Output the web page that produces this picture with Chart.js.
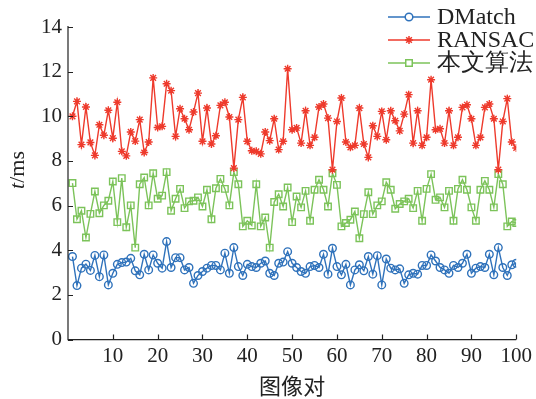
<!DOCTYPE html>
<html><head><meta charset="utf-8">
<script src="https://cdn.jsdelivr.net/npm/chart.js@4/dist/chart.umd.min.js"></script>
<style>html,body{margin:0;padding:0;background:#fff;}canvas{display:block;}</style>
</head><body>
<canvas id="c" width="536" height="399"></canvas>
<script>
const pairIndex = Array.from({length:100},(_,i)=>i+1);
const dmatch = [3.72,2.42,3.20,3.38,3.10,3.77,2.82,3.79,2.45,2.97,3.37,3.45,3.47,3.64,3.08,2.90,3.82,3.12,3.79,3.42,
3.20,4.39,3.23,3.67,3.67,3.12,3.23,2.52,2.87,3.05,3.20,3.32,3.32,3.12,3.87,2.97,4.12,3.27,2.87,3.37,
3.27,3.23,3.42,3.52,2.97,2.87,3.42,3.47,3.94,3.42,3.23,3.05,2.97,3.27,3.32,3.23,3.82,2.93,4.09,3.27,
2.90,3.37,2.45,3.12,3.35,3.08,3.72,2.93,3.76,2.45,3.61,3.20,3.12,3.17,2.52,2.90,2.97,2.93,3.32,3.32,
3.79,3.52,3.23,3.12,2.97,3.32,3.23,3.42,3.82,2.97,3.20,3.27,3.23,3.82,2.90,4.12,3.23,2.87,3.35,3.42];
const ransac = [10.0,10.67,8.73,10.42,8.83,8.25,9.62,9.15,10.27,9.02,10.63,8.43,8.23,9.30,8.89,9.85,8.38,8.85,11.72,9.50,
9.55,11.46,11.15,9.10,10.34,9.89,9.40,10.19,11.04,8.88,10.37,8.76,9.13,10.49,10.63,9.97,7.68,9.85,10.85,8.88,
8.46,8.43,8.32,9.30,8.91,9.89,8.51,8.88,12.13,9.40,9.48,8.80,10.25,8.70,9.06,10.42,10.55,9.92,7.61,9.77,
10.82,8.85,8.61,8.70,10.37,8.76,8.16,9.58,9.10,10.22,8.95,10.25,9.80,9.35,10.10,10.97,8.80,10.25,8.70,9.06,
11.64,9.40,9.44,8.80,10.25,8.70,9.06,10.40,10.52,9.89,8.70,9.06,10.40,10.55,9.89,7.61,9.77,10.79,8.85,8.58];
const ours = [7.01,5.39,5.77,4.57,5.63,6.63,5.66,6.01,6.22,7.08,5.26,7.23,5.03,6.01,4.12,6.96,7.26,6.01,7.45,6.31,
6.45,7.50,5.77,6.31,6.75,5.89,6.19,6.22,6.37,5.96,6.71,5.39,6.78,7.20,6.75,6.01,7.50,6.96,5.07,5.32,
5.11,6.96,5.07,5.47,4.12,6.16,6.51,5.96,6.81,5.26,6.41,5.92,6.66,5.32,6.71,7.16,6.71,5.96,7.45,6.93,
5.07,5.22,5.37,5.74,4.54,5.62,6.60,5.62,6.01,6.19,7.05,6.71,5.86,6.07,6.19,6.31,5.89,6.66,5.32,6.75,
7.41,6.26,6.37,5.92,6.66,5.32,6.75,7.16,6.71,5.92,5.32,6.71,7.11,6.71,5.92,7.41,6.96,5.07,5.29,5.22];
const seriesNames = ['DMatch','RANSAC','本文算法'];
const xTicks = [10,20,30,40,50,60,70,80,90,100];
const yTicks = [0,2,4,6,8,10,12,14];
const xTitle = '图像对';

const BLUE='#2f72bb', RED='#ee3a2c', GREEN='#7cc35a';
const toPts = arr => arr.map((v,i)=>({x:pairIndex[i], y:v}));
const serif = '"Liberation Serif","Times New Roman",serif';

const deco = {
  id:'deco',
  afterDraw(chart){
    const ctx=chart.ctx, a=chart.chartArea, xs=chart.scales.x, ys=chart.scales.y;
    ctx.save();
    ctx.strokeStyle='#222'; ctx.lineWidth=1.2;
    ctx.beginPath();
    ctx.moveTo(a.left, a.top-1); ctx.lineTo(a.left, a.bottom); ctx.lineTo(a.right, a.bottom);
    ctx.stroke();
    ctx.beginPath();
    xTicks.forEach(v=>{const p=Math.round(xs.getPixelForValue(v))+0.5; ctx.moveTo(p,a.bottom); ctx.lineTo(p,a.bottom-5);});
    yTicks.forEach(v=>{const p=Math.round(ys.getPixelForValue(v))+0.5; ctx.moveTo(a.left,p); ctx.lineTo(a.left+5,p);});
    ctx.stroke();
    // y title
    ctx.fillStyle='#222';
    ctx.save();
    ctx.translate(18,170); ctx.rotate(-Math.PI/2);
    ctx.textBaseline='middle';
    ctx.font='italic 22px '+serif;
    const w1=ctx.measureText('t').width;
    ctx.font='22px '+serif;
    const w2=ctx.measureText('/ms').width;
    const start=-(w1+w2)/2;
    ctx.textAlign='left';
    ctx.font='italic 22px '+serif; ctx.fillText('t',start,0);
    ctx.font='22px '+serif; ctx.fillText('/ms',start+w1,0);
    ctx.restore();
    // x title
    ctx.font='22px "Noto Sans CJK SC"';
    ctx.textAlign='center'; ctx.textBaseline='middle';
    ctx.fillText(xTitle,(a.left+a.right)/2,386);
    // legend
    const rows=[17,40,63];
    chart.data.datasets.forEach((ds,i)=>{
      const y=rows[i];
      ctx.strokeStyle=ds.borderColor; ctx.lineWidth=1.5;
      ctx.beginPath(); ctx.moveTo(388,y); ctx.lineTo(430,y); ctx.stroke();
      ctx.fillStyle='#ffffff';
      Chart.helpers.drawPoint(ctx,{pointStyle:ds.pointStyle,radius:ds.pointRadius,borderWidth:ds.pointBorderWidth||1.3,rotation:0},409,y);
      ctx.fillStyle='#222';
      ctx.font='24px '+serif; ctx.textAlign='left'; ctx.textBaseline='middle';
      ctx.fillText(seriesNames[i],437,y+1);
    });
    ctx.restore();
  }
};

new Chart(document.getElementById('c'),{
  type:'line',
  data:{datasets:[
    {label:seriesNames[0],data:toPts(dmatch),borderColor:BLUE,backgroundColor:'rgba(0,0,0,0)',pointStyle:'circle',pointRadius:3.8,pointBorderWidth:1.4,borderWidth:1.4,pointBackgroundColor:'rgba(0,0,0,0)',pointBorderColor:BLUE},
    {label:seriesNames[1],data:toPts(ransac),borderColor:RED,backgroundColor:'rgba(0,0,0,0)',pointStyle:'star',pointRadius:4,pointBorderWidth:1.4,borderWidth:1.4,pointBorderColor:RED},
    {label:seriesNames[2],data:toPts(ours),borderColor:GREEN,backgroundColor:'rgba(0,0,0,0)',pointStyle:'rect',pointRadius:4.6,pointBorderWidth:1.4,borderWidth:1.4,pointBackgroundColor:'rgba(0,0,0,0)',pointBorderColor:GREEN}
  ]},
  options:{
    responsive:false, animation:false, devicePixelRatio:1,
    layout:{padding:{left:0,right:17,top:27,bottom:0}},
    plugins:{legend:{display:false},tooltip:{enabled:false}},
    elements:{line:{tension:0}},
    scales:{
      x:{type:'linear',min:0,max:100,
        afterBuildTicks:s=>{s.ticks=xTicks.map(v=>({value:v}));},
        afterFit:s=>{s.height=59.4;},
        grid:{display:false,drawTicks:false},border:{display:false},
        ticks:{padding:4,color:'#222',font:{family:serif,size:21},maxRotation:0,autoSkip:false}},
      y:{min:0,max:14,
        afterBuildTicks:s=>{s.ticks=yTicks.map(v=>({value:v}));},
        afterFit:s=>{s.width=68;},
        grid:{display:false,drawTicks:false},border:{display:false},
        ticks:{padding:6,color:'#222',font:{family:serif,size:21}}}
    }
  },
  plugins:[deco]
});
</script>
</body></html>
